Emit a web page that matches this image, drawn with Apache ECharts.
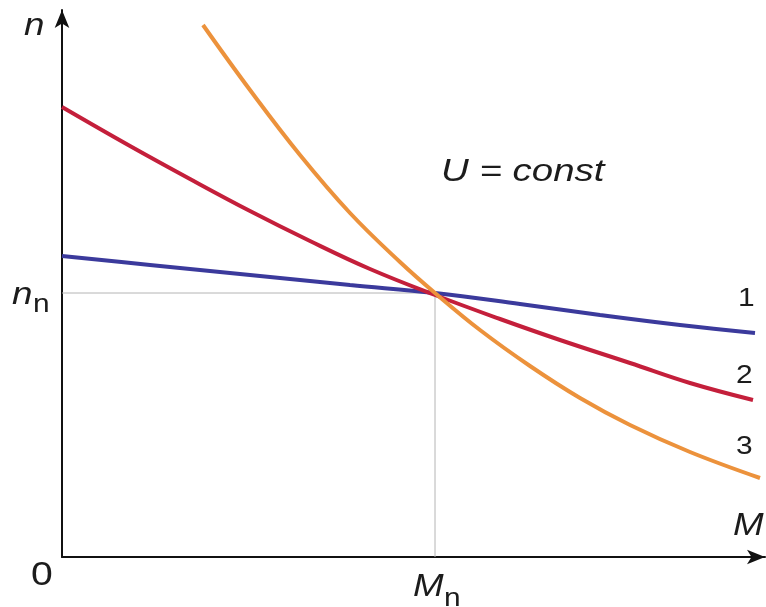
<!DOCTYPE html>
<html>
<head>
<meta charset="utf-8">
<script src="https://cdn.jsdelivr.net/npm/echarts@6/dist/echarts.min.js"></script>
<style>
html,body{margin:0;padding:0;background:#fff;}
#c{width:766px;height:607px;}
</style>
</head>
<body>
<div id="c"></div>
<script>
// Values (units: M along x, n along y; 0 at the origin)
var curve1 = [[0,301],[88,292],[188,282],[288,272],[373,264],[458,253],[538,242],[618,232],[693,224]];
var curve2 = [[0,450],[68,411],[128,378],[188,346],[248,316],[308,288],[373,262],[438,238],[498,217],[568,194],[628,174],[691,157]];
var curve3 = [[141,532],[188,467],[238,402],[288,344],[338,295],[373,264],[418,227],[468,191],[518,159],[568,132],[628,105],[698,79]];
var ratedM = 373;
var ratedN = 264;
var curveLabels = ['1','2','3'];
var xMax = 703, yMax = 547;

var chart = echarts.init(document.getElementById('c'), null, {renderer:'canvas'});
var font = 'Liberation Sans, Arial, sans-serif';
function mkLine(data, color){
  return {type:'line', data:data, smooth:0.4, symbol:'none', lineStyle:{color:color,width:4}, z:3, silent:true};
}
function txt(t, l, tp, f, sx){
  return {type:'text', left:l, top:tp, scaleX:sx||1.15, style:{text:t, font:f, fill:'#1c1c1c'}};
}
chart.setOption({
  animation:false,
  backgroundColor:'#ffffff',
  grid:{left:62, right:1, top:10, bottom:50, containLabel:false},
  xAxis:{type:'value', min:0, max:xMax, axisLabel:{show:false}, axisTick:{show:false}, splitLine:{show:false},
    axisLine:{show:true, onZero:false, lineStyle:{color:'#111',width:2}, symbol:['none','arrow'], symbolSize:[11,18], symbolOffset:[0,0]}},
  yAxis:{type:'value', min:0, max:yMax, axisLabel:{show:false}, axisTick:{show:false}, splitLine:{show:false},
    axisLine:{show:true, onZero:false, lineStyle:{color:'#111',width:2}, symbol:['none','arrow'], symbolSize:[11,18], symbolOffset:[0,0]}},
  series:[
    {type:'line', data:[[0,ratedN],[ratedM,ratedN],[ratedM,0]], symbol:'none', lineStyle:{color:'#b4b4b4',width:1}, z:1, silent:true},
    mkLine(curve1,'#3b3a9c'),
    mkLine(curve2,'#c41f3b'),
    mkLine(curve3,'#ec923c')
  ],
  graphic:[
    txt('n', 24, 10, 'italic 32px '+font),
    txt('n', 12, 279, 'italic 32px '+font),
    txt('n', 33, 292, '26px '+font),
    txt('0', 31, 559, '34px '+font),
    txt('M', 733, 510, 'italic 32px '+font),
    txt('M', 413, 571, 'italic 32px '+font),
    txt('n', 444, 586, '26px '+font),
    txt(curveLabels[0], 738, 286, '26px '+font),
    txt(curveLabels[1], 736, 363, '26px '+font),
    txt(curveLabels[2], 736, 434, '26px '+font),
    txt('U = const', 441, 157, 'italic 31px '+font, 1.24)
  ]
});
</script>
</body>
</html>
